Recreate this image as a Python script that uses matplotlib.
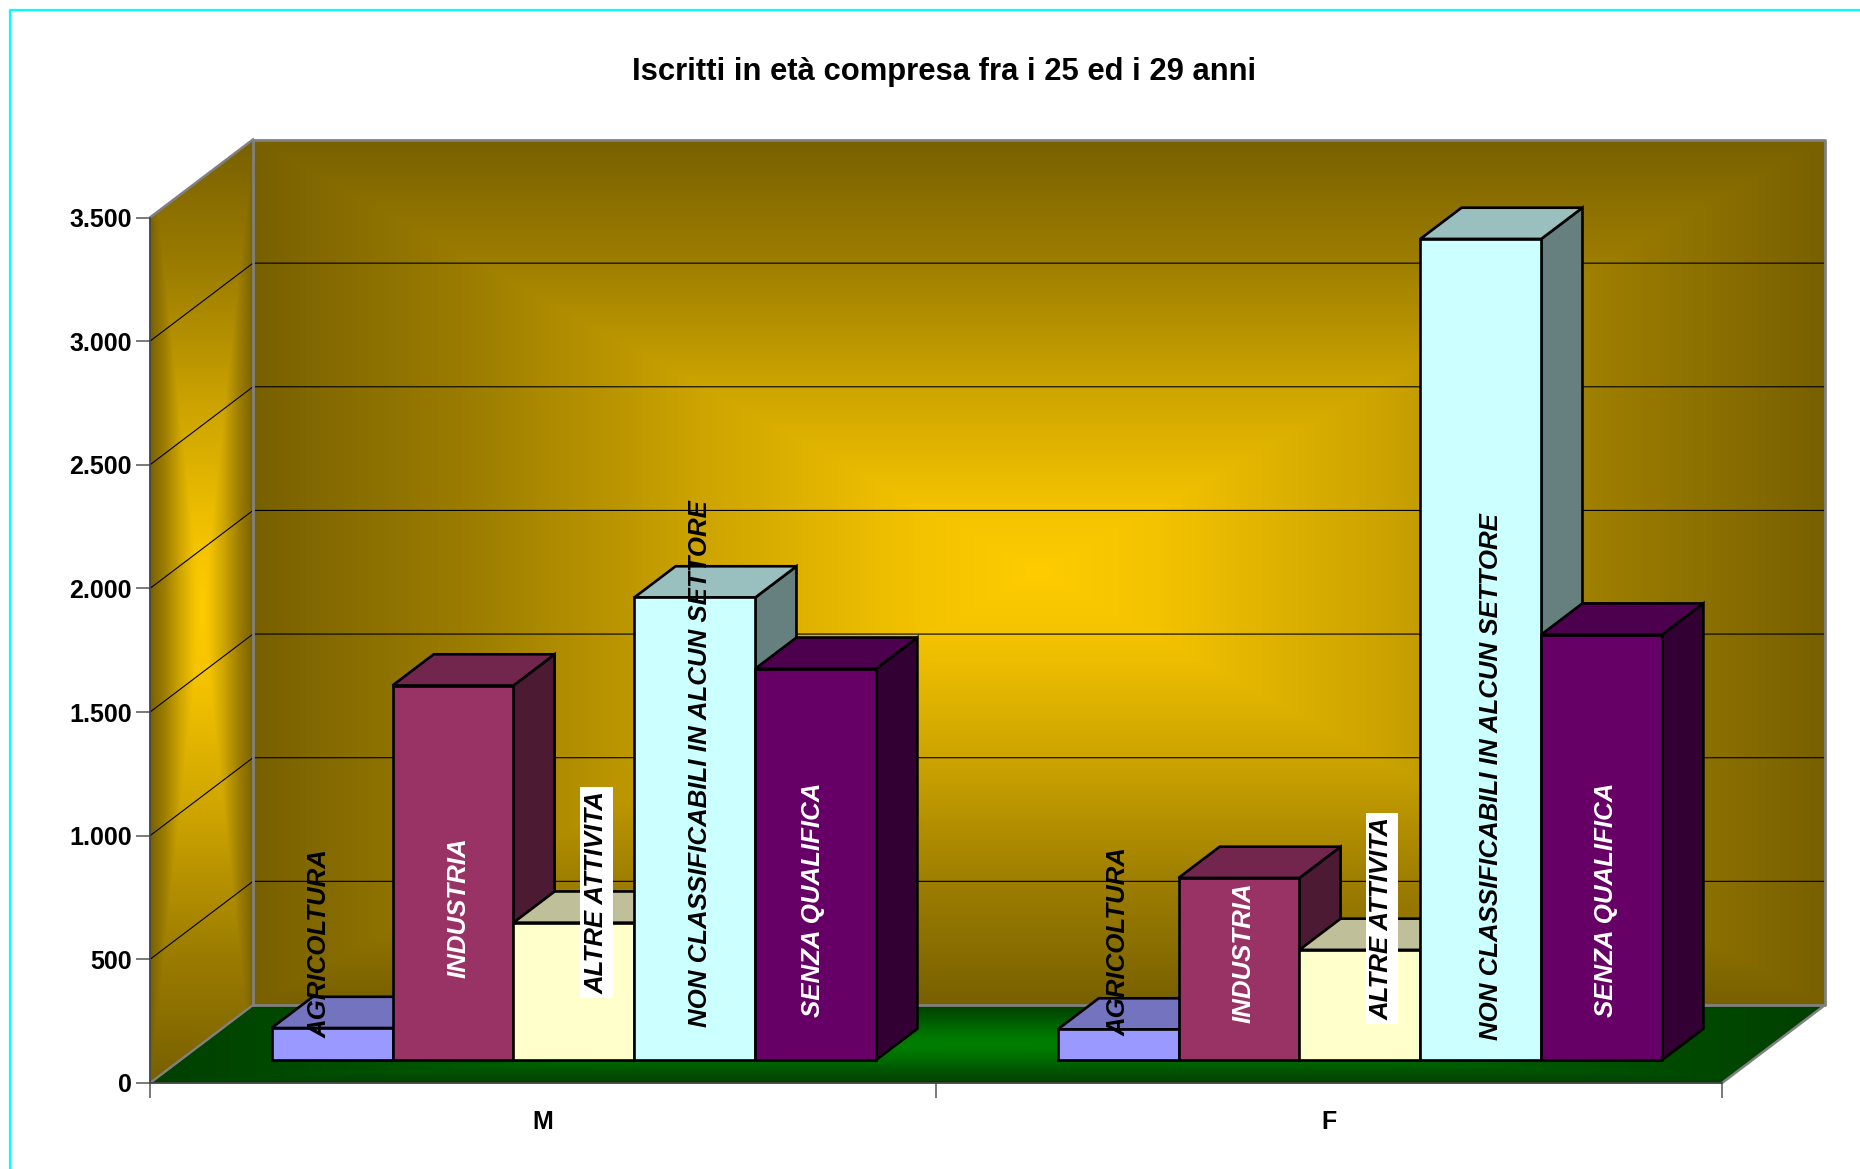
#!/usr/bin/env python3
"""Iscritti 25-29 anni: Excel style pseudo-3D column chart."""
import matplotlib
matplotlib.use("Agg")
import matplotlib.pyplot as plt
from matplotlib.colors import to_rgb
from matplotlib.lines import Line2D
from matplotlib.patches import Polygon
import numpy as np

TITLE = "Iscritti in età compresa fra i 25 ed i 29 anni"
GENDERS = ["M", "F"]
SECTORS = ["AGRICOLTURA", "INDUSTRIA", "ALTRE ATTIVITA",
           "NON CLASSIFICABILI IN ALCUN SETTORE", "SENZA QUALIFICA"]
VALUES_M = [129, 1514, 555, 1870, 1582]
VALUES_F = [123, 736, 445, 3320, 1720]
Y_TICKS = [0, 500, 1000, 1500, 2000, 2500, 3000, 3500]
Y_LABELS = ["0", "500", "1.000", "1.500", "2.000", "2.500", "3.000", "3.500"]

COLORS = ["#9999FF", "#993366", "#FFFFCC", "#CCFFFF", "#660066"]
TEXT_COLORS = ["black", "white", "black", "black", "white"]
TEXT_BOXED = [False, False, True, False, False]

# hand placed label centres (category units, value units)
LABEL_X_M = [0.216, 0.393, 0.568, 0.700, 0.843]
LABEL_Y_M = [562, 708, 770, 1293, 742]
LABEL_X_F = [1.232, 1.391, 1.567, 1.706, 1.852]
LABEL_Y_F = [570, 526, 665, 1241, 742]

W, H = 1860, 1169
LEFT, RIGHT, BASE, TOP = 150, 1722, 1083, 217.5
DEPTH_X = 103 / ((RIGHT - LEFT) / 2)
DEPTH_Y = 78 / ((BASE - TOP) / 3500)
BAR_W = 1 / 6.5
BAR_DEPTH, BAR_MARGIN = 0.4, 0.3
YMAX = 3500
FONT = ["Liberation Sans", "DejaVu Sans"]

plt.rcParams["font.family"] = FONT
fig = plt.figure(figsize=(W / 100, H / 100), dpi=100, facecolor="white")
ax = fig.add_axes([LEFT / W, 1 - BASE / H, (RIGHT - LEFT) / W, (BASE - TOP) / H])
ax.patch.set_visible(False)


def gradient_fill(pts, inner, outer, zorder):
    # rectangular "from centre" fill, clipped to the polygon
    pts = np.array(pts)
    x0, y0 = pts.min(axis=0)
    x1, y1 = pts.max(axis=0)
    u, v = np.meshgrid(np.linspace(-1, 1, 800), np.linspace(-1, 1, 800))
    t = np.maximum(np.abs(u), np.abs(v))
    t = np.interp(t, [0, 0.143, 0.43, 0.714, 1], [0, 0.08, 0.37, 0.72, 1])[..., None]
    rgb = np.array(to_rgb(inner)) * (1 - t) + np.array(to_rgb(outer)) * t
    im = ax.imshow(rgb, extent=[x0, x1, y0, y1], aspect="auto", zorder=zorder,
                   interpolation="bilinear")
    poly = Polygon(pts, closed=True, fc="none", ec="none", transform=ax.transData)
    ax.add_patch(poly)
    im.set_clip_path(poly)
    im.set_clip_box(fig.bbox)


YELLOW, DARK = "#FFCC00", "#786000"
GREEN, DARK_GREEN = "#008000", "#003F00"
dx, dy = DEPTH_X, DEPTH_Y
gradient_fill([(dx, dy), (2 + dx, dy), (2 + dx, YMAX + dy), (dx, YMAX + dy)], YELLOW, DARK, 1)
gradient_fill([(0, 0), (dx, dy), (dx, YMAX + dy), (0, YMAX)], YELLOW, DARK, 1)
gradient_fill([(0, 0), (2, 0), (2 + dx, dy), (dx, dy)], GREEN, DARK_GREEN, 1)

for v in Y_TICKS[1:-1]:
    ax.plot([0, dx, 2 + dx], [v, v + dy, v + dy], color="black", lw=0.8,
            clip_on=False, zorder=2)

GREY = "#808080"
ax.plot([dx, dx, 2 + dx, 2 + dx, dx], [dy, YMAX + dy, YMAX + dy, dy, dy], color=GREY,
        lw=2, clip_on=False, zorder=3)
ax.plot([0, dx], [YMAX, YMAX + dy], color=GREY, lw=1.8, clip_on=False, zorder=3)
ax.plot([0, dx], [0, dy], color=GREY, lw=1.8, clip_on=False, zorder=3)
ax.plot([2, 2 + dx], [0, dy], color=GREY, lw=1.8, clip_on=False, zorder=3)


def shade(color, k):
    return tuple(c * k for c in to_rgb(color))


z = 4
for g, vals in enumerate([VALUES_M, VALUES_F]):
    start = g + 0.5 - 2.5 * BAR_W + BAR_MARGIN * DEPTH_X
    bottom = BAR_MARGIN * 77 / ((BASE - TOP) / 3500)
    bdx, bdy = BAR_DEPTH * DEPTH_X, BAR_DEPTH * DEPTH_Y
    for i, val in enumerate(vals):
        xl = start + i * BAR_W
        xr = xl + BAR_W
        yt = bottom + val
        style = dict(ec="black", lw=1.9, joinstyle="miter", clip_on=False, zorder=z)
        ax.fill([xr, xr + bdx, xr + bdx, xr], [bottom, bottom + bdy, yt + bdy, yt],
                fc=shade(COLORS[i], 0.5), **style)
        ax.fill([xl, xr, xr + bdx, xl + bdx], [yt, yt, yt + bdy, yt + bdy],
                fc=shade(COLORS[i], 0.75), **style)
        ax.bar(xl, val, BAR_W, bottom=bottom, align="edge", color=COLORS[i], **style)
        z += 1

for xs, ys in [(LABEL_X_M, LABEL_Y_M), (LABEL_X_F, LABEL_Y_F)]:
    for i, name in enumerate(SECTORS):
        box = dict(fc="white", ec="none", pad=3) if TEXT_BOXED[i] else None
        ax.text(xs[i], ys[i], name, rotation=90, ha="center", va="center",
                color=TEXT_COLORS[i], fontsize=18.6, fontweight="bold", fontstyle="italic",
                bbox=box, clip_on=False, zorder=50)

ax.set_xlim(0, 2)
ax.set_ylim(0, YMAX)
ax.set_yticks(Y_TICKS)
ax.set_yticklabels(Y_LABELS, fontsize=18, fontweight="bold")
ax.set_xticks([0, 1, 2])
ax.set_xticklabels([])
ax.set_xticks([0.5, 1.5], minor=True)
ax.set_xticklabels(GENDERS, minor=True, fontsize=18, fontweight="bold")
ax.tick_params(axis="y", direction="out", length=10, width=1.1, color="#555555", pad=3)
ax.tick_params(axis="x", which="major", direction="out", length=11, width=1.1, color="#555555")
ax.tick_params(axis="x", which="minor", length=0, pad=19.5)
for side in ("top", "right"):
    ax.spines[side].set_visible(False)
for side in ("left", "bottom"):
    ax.spines[side].set_color("#444444")
    ax.spines[side].set_linewidth(1.3)
    ax.spines[side].set_zorder(3.5)

fig.text(944.5 / W, 1 - 72 / H, TITLE, ha="center", va="center", fontsize=22.35,
         fontweight="bold", color="black")

# cyan frame of the original slide
fig.add_artist(Line2D([10 / W, 10 / W, 1], [0, 1 - 10 / H, 1 - 10 / H], color="#00FFFF", lw=1.6))

fig.savefig("out.png", dpi=100, facecolor="white")
